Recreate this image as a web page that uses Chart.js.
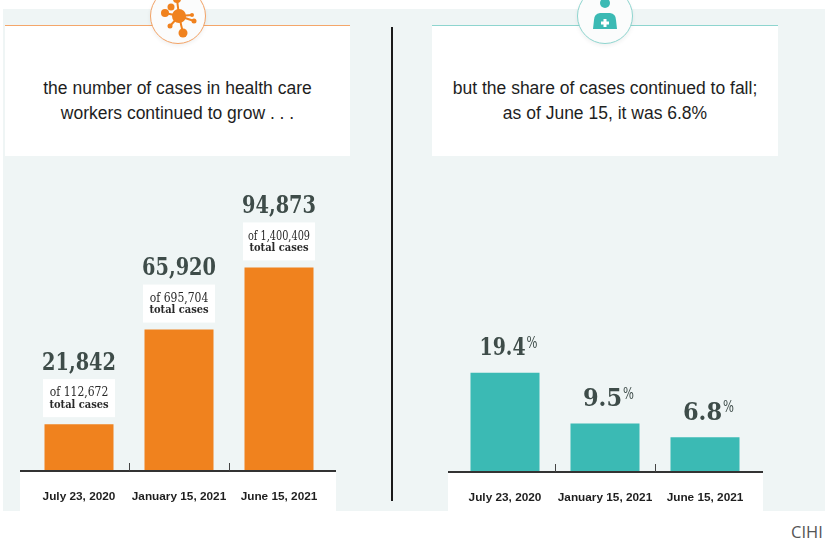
<!DOCTYPE html>
<html><head><meta charset="utf-8">
<script src="https://cdn.jsdelivr.net/npm/chart.js@4.4.1/dist/chart.umd.min.js"></script>
<style>
html,body{margin:0;padding:0;background:#fff;width:832px;height:548px;overflow:hidden;position:relative;font-family:"Liberation Sans",Arial,sans-serif;}
#panel{position:absolute;left:3px;top:9px;width:822px;height:502px;background:#eff5f5;}
.head{position:absolute;top:25px;height:130px;background:#fff;}
.head .txt{position:absolute;left:0;right:0;top:50px;text-align:center;font-size:17.5px;line-height:24.5px;color:#1e1e1e;}
#hl{left:5px;width:345px;border-top:1.5px solid #f4a66a;}
#hr{left:432px;width:346px;border-top:1.5px solid #8ed5cf;}
.circ{position:absolute;width:54px;height:54px;border-radius:50%;background:#fbfcfc;box-shadow:0 2px 4px rgba(0,0,0,0.06);}
#cl{left:150px;top:-12px;border:1.2px solid #f3a366;}
#cr{left:577px;top:-12px;border:1.2px solid #8ed5cf;}
#vline{position:absolute;left:390.5px;top:27px;width:2px;height:474px;background:#1a1a1a;}
.cw{position:absolute;top:147px;height:365px;}
#wl{left:20px;width:316px;}
#wr{left:448px;width:315px;}
#src{position:absolute;left:791px;top:520px;font-family:"Open Sans",sans-serif;font-size:16.5px;color:#555;}
</style></head>
<body>
<div id="panel"></div>
<div class="head" id="hl"><div class="txt">the number of cases in health care<br>workers continued to grow . . .</div></div>
<div class="head" id="hr"><div class="txt">but the share of cases continued to fall;<br>as of June 15, it was 6.8%</div></div>
<div class="circ" id="cl"><svg width="54" height="54" viewBox="0 0 54 54">
<g fill="#f0821e" stroke="#f0821e" stroke-width="2">
<line x1="28" y1="27" x2="14" y2="24"/><line x1="28" y1="27" x2="19" y2="37"/><line x1="28" y1="27" x2="32" y2="44"/>
<line x1="28" y1="27" x2="43" y2="32"/><line x1="28" y1="27" x2="41" y2="26"/><line x1="28" y1="27" x2="26" y2="10"/>
<circle cx="28" cy="27" r="7" stroke="none"/><circle cx="14" cy="24" r="4" stroke="none"/><circle cx="19" cy="37" r="2.5" stroke="none"/>
<circle cx="32" cy="44" r="4.5" stroke="none"/><circle cx="43" cy="32" r="2.5" stroke="none"/><circle cx="41" cy="26" r="2" stroke="none"/>
<circle cx="26" cy="10" r="4" stroke="none"/><circle cx="20" cy="18" r="3.5" stroke="none"/>
</g></svg></div>
<div class="circ" id="cr"><svg width="54" height="54" viewBox="0 0 54 54">
<circle cx="27" cy="14" r="5" fill="#3bbab4"/>
<path d="M22 24 L32 24 Q38 25 38 31 L39 40 L15 40 L16 31 Q16 25 22 24 Z" fill="#3bbab4"/>
<rect x="25.5" y="30" width="3" height="8" fill="#fff"/><rect x="23" y="32.5" width="8" height="3" fill="#fff"/>
</svg></div>
<div id="vline"></div>
<div class="cw" id="wl"><canvas id="c1" width="316" height="365"></canvas></div>
<div class="cw" id="wr"><canvas id="c2" width="315" height="365"></canvas></div>
<div id="src">CIHI</div>
<script>
const categories = ["July 23, 2020", "January 15, 2021", "June 15, 2021"];
const hcwCases = [21842, 65920, 94873];
const totalCases = [112672, 695704, 1400409];
const hcwShare = [19.4, 9.5, 6.8];

const numFont = '"DejaVu Serif Condensed","DejaVu Serif",serif';

function fitText(ctx, text, x, y, maxW) {
  const w = ctx.measureText(text).width;
  if (w > maxW) {
    ctx.save(); ctx.translate(x, y); ctx.scale(maxW / w, 1); ctx.fillText(text, 0, 0); ctx.restore();
  } else ctx.fillText(text, x, y);
}

function axisPlugin(extra) {
  return {
    id: 'axisdeco',
    beforeDraw(chart) {
      const ctx = chart.ctx, a = chart.chartArea;
      ctx.save(); ctx.fillStyle = '#fff';
      ctx.fillRect(0, a.bottom, chart.width, chart.height - a.bottom);
      ctx.restore();
    },
    afterDatasetsDraw(chart) {
      const ctx = chart.ctx, a = chart.chartArea, xs = chart.scales.x;
      ctx.save();
      ctx.strokeStyle = '#333'; ctx.lineWidth = 2;
      ctx.beginPath(); ctx.moveTo(0, a.bottom); ctx.lineTo(chart.width, a.bottom); ctx.stroke();
      ctx.lineWidth = 1; ctx.strokeStyle = '#444';
      for (let i = 0; i < categories.length - 1; i++) {
        const px = Math.round((xs.getPixelForValue(i) + xs.getPixelForValue(i + 1)) / 2) + 0.5;
        ctx.beginPath(); ctx.moveTo(px, a.bottom); ctx.lineTo(px, a.bottom - 8); ctx.stroke();
      }
      ctx.restore();
      extra(chart);
    }
  };
}

function labelsLeft(chart) {
  const ctx = chart.ctx, meta = chart.getDatasetMeta(0);
  ctx.save();
  meta.data.forEach((bar, i) => {
    const x = bar.x, y = bar.y;
    ctx.fillStyle = '#3e4c49';
    ctx.font = 'bold 25px ' + numFont;
    ctx.textAlign = 'center'; ctx.textBaseline = 'middle';
    fitText(ctx, hcwCases[i].toLocaleString('en-US'), x, y - 61, 74);
    ctx.fillStyle = '#fff';
    ctx.fillRect(x - 36, y - 45, 72, 38);
    ctx.fillStyle = '#2a2a2a';
    ctx.font = '12px ' + numFont;
    fitText(ctx, 'of ' + totalCases[i].toLocaleString('en-US'), x, y - 31, 62);
    ctx.font = 'bold 11px ' + numFont;
    fitText(ctx, 'total cases', x, y - 19, 60);
  });
  ctx.restore();
}

function labelsRight(chart) {
  const ctx = chart.ctx, meta = chart.getDatasetMeta(0);
  ctx.save();
  meta.data.forEach((bar, i) => {
    const x = bar.x + 3, y = bar.y - 24;
    const num = hcwShare[i].toFixed(1);
    ctx.font = 'bold 25px ' + numFont;
    let wn = ctx.measureText(num).width; let sx = 1;
    if (wn > 46) { sx = 46 / wn; wn = 46; }
    ctx.font = '16px ' + numFont;
    const wp = ctx.measureText('%').width * 0.8;
    const left = x - (wn + wp) / 2;
    ctx.fillStyle = '#3e4c49';
    ctx.textBaseline = 'middle'; ctx.textAlign = 'left';
    ctx.save(); ctx.translate(left, y); ctx.scale(sx, 1);
    ctx.font = 'bold 25px ' + numFont; ctx.fillText(num, 0, 0); ctx.restore();
    ctx.save(); ctx.translate(left + wn + 1, y - 5); ctx.scale(0.8, 1);
    ctx.font = '16px ' + numFont; ctx.fillText('%', 0, 0); ctx.restore();
  });
  ctx.restore();
}

function makeChart(id, values, color, yMax, pad, axisH, extra) {
  return new Chart(document.getElementById(id), {
    type: 'bar',
    data: { labels: categories, datasets: [{ data: values, backgroundColor: color, borderWidth: 0,
      barPercentage: 0.69, categoryPercentage: 1.0 }] },
    options: {
      responsive: false, animation: false, devicePixelRatio: 1,
      layout: { padding: { left: pad[0], right: pad[1], top: 0, bottom: 0 } },
      plugins: { legend: { display: false }, tooltip: { enabled: false } },
      scales: {
        x: { grid: { display: false, drawTicks: false }, border: { display: false },
             ticks: { color: '#1e1e1e', padding: 19, maxRotation: 0, minRotation: 0, autoSkip: false,
                      font: { family: '"Liberation Sans",Arial,sans-serif', size: 11.8, weight: 'bold' } },
             afterFit: (s) => { s.height = axisH; s.paddingLeft = 0; s.paddingRight = 0; } },
        y: { display: false, min: 0, max: yMax }
      }
    },
    plugins: [axisPlugin(extra)]
  });
}

makeChart('c1', hcwCases, '#f0821e', 151000, [9, 7], 41, labelsLeft);
makeChart('c2', hcwShare, '#3bbab4', 63.5, [7, 8], 40, labelsRight);
</script>
</body></html>
